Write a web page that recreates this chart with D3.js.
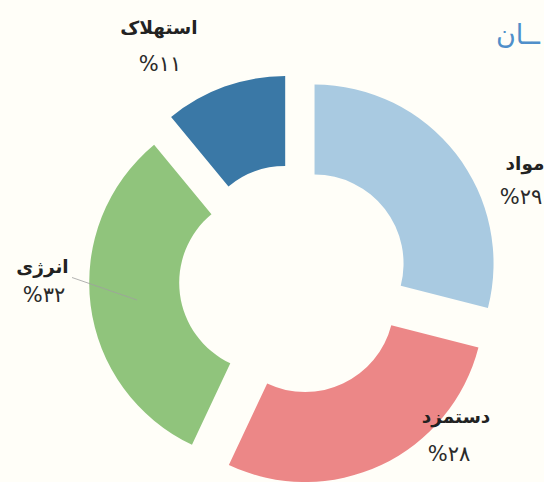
<!DOCTYPE html>
<html><head><meta charset="utf-8">
<script src="https://cdn.jsdelivr.net/npm/d3@7"></script>
<style>html,body{margin:0;padding:0;background:#fffef8;overflow:hidden} svg{display:block}</style>
</head><body>
<svg id="chart" width="544" height="482"></svg>
<script>
// ---- data ----
const categories = ["مواد", "دستمزد", "انرژی", "استهلاک"];
const values = [29, 28, 32, 11];
const percentLabels = ["%۲۹", "%۲۸", "%۳۲", "%۱۱"];
const titleText = "ــان";

// ---- layout / style ----
const colors = ["#a9cae1", "#ec8787", "#90c47c", "#3a78a6"];
const W = 544, H = 482;
const cx = 294, cy = 279.5, outerR = 179, innerR = 89, explode = 26;
// label anchor positions (name centre x, name baseline, percent centre x, percent baseline)
const labelPos = [
  {nx: 525, ny: 170, px: 521, py: 204},
  {nx: 456, ny: 423, px: 449, py: 461},
  {nx: 42.5, ny: 273, px: 44, py: 302},
  {nx: 159, ny: 34, px: 160, py: 71}
];

const svg = d3.select("#chart");
svg.append("rect").attr("width", W).attr("height", H).attr("fill", "#fffef8");

const pie = d3.pie().sort(null).value(d => d);
const arcGen = d3.arc().innerRadius(innerR).outerRadius(outerR);
const arcs = pie(values);

const g = svg.append("g").attr("transform", `translate(${cx},${cy})`);
g.selectAll("path").data(arcs).join("path")
  .attr("d", arcGen)
  .attr("fill", (d, i) => colors[i])
  .attr("transform", d => {
    const a = (d.startAngle + d.endAngle) / 2;
    return `translate(${Math.sin(a) * explode},${-Math.cos(a) * explode})`;
  });

// leader line for انرژی
svg.append("line").attr("x1", 72).attr("y1", 277.5).attr("x2", 137).attr("y2", 300)
  .attr("stroke", "#a0a0a0").attr("stroke-width", 1).attr("opacity", 0.8);

const font = "'DejaVu Sans', sans-serif";
const lab = svg.append("g").attr("font-family", font).attr("fill", "#222");
categories.forEach((c, i) => {
  const p = labelPos[i];
  lab.append("text").attr("x", p.nx).attr("y", p.ny).attr("text-anchor", "middle")
    .attr("font-size", 18.5).attr("font-weight", "bold").text(c);
  lab.append("text").attr("x", p.px).attr("y", p.py).attr("text-anchor", "middle")
    .attr("font-size", 21).attr("fill", "#2a2a2a").text(percentLabels[i]);
});

// partially visible title
svg.append("text").attr("x", 496).attr("y", 44).attr("text-anchor", "start")
  .attr("font-family", font).attr("font-size", 27).attr("fill", "#4f8fca").text(titleText);
</script>
</body></html>
